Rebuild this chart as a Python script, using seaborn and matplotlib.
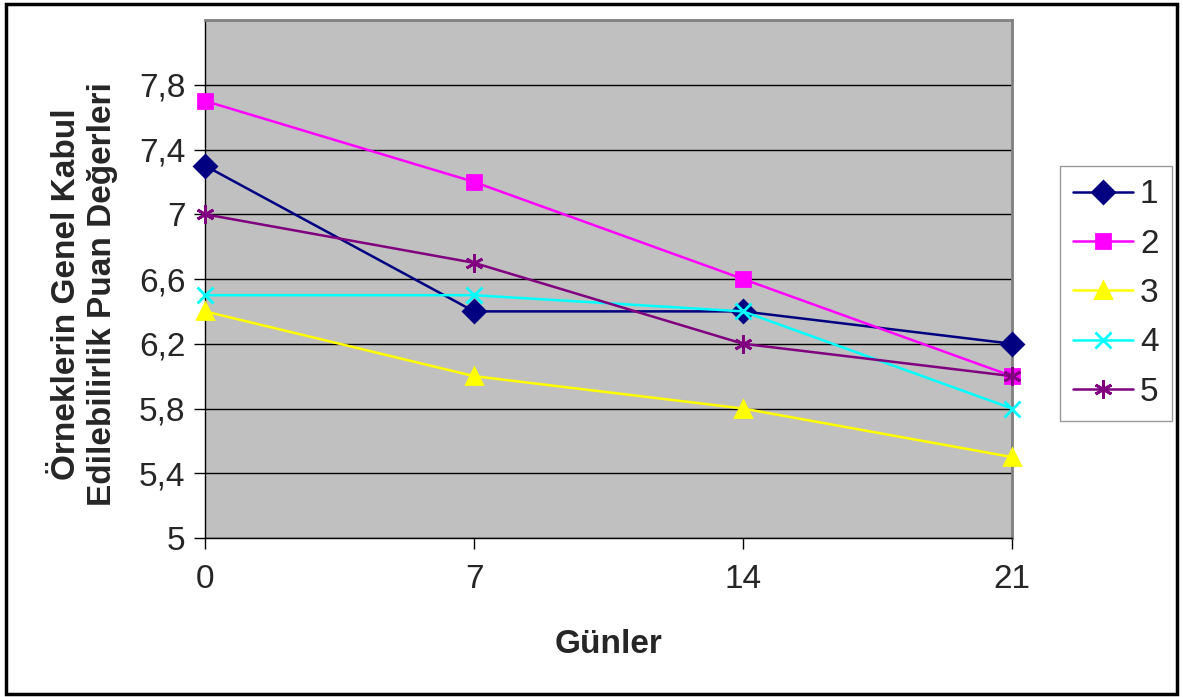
import numpy as np
import pandas as pd
import seaborn as sns
import matplotlib
matplotlib.use("Agg")
import matplotlib.pyplot as plt
from matplotlib.patches import Rectangle
from matplotlib.lines import Line2D

# ------ data ------ #
days = [0, 7, 14, 21]
series_names = ["1", "2", "3", "4", "5"]
s1 = [7.3, 6.4, 6.4, 6.2]
s2 = [7.7, 7.2, 6.6, 6.0]
s3 = [6.4, 6.0, 5.8, 5.5]
s4 = [6.5, 6.5, 6.4, 5.8]
s5 = [7.0, 6.7, 6.2, 6.0]
y_ticks = [5, 5.4, 5.8, 6.2, 6.6, 7, 7.4, 7.8]

colors = ["#000080", "#FF00FF", "#FFFF00", "#00FFFF", "#800080"]
markers = ["D", "s", "^", "x", (6, 2, 0)]
msizes = [11, 10, 11, 12, 13]

df = pd.DataFrame({
    "gun": days * 5,
    "puan": s1 + s2 + s3 + s4 + s5,
    "seri": [n for n in series_names for _ in days],
})

sns.set_style("white")
plt.rcParams["font.family"] = ["Liberation Sans", "DejaVu Sans"]

fig = plt.figure(figsize=(11.83, 6.97), dpi=100)
ax = fig.add_axes([0.1733, 0.2281, 0.6822, 0.7432])
ax.set_facecolor("#C0C0C0")

# ------ one line per sample ------ #
for name, c, m, ms in zip(series_names, colors, markers, msizes):
    sns.lineplot(
        data=df[df["seri"] == name], x="gun", y="puan", color=c,
        marker=m, markersize=ms, markeredgecolor=c, markeredgewidth=2,
        linewidth=1.8, legend=False, ax=ax, clip_on=False, zorder=3
    )

ax.set_xlim(0, 21)
ax.set_ylim(5, 8.2)
ax.set_xticks(days)
ax.set_xticklabels([str(d) for d in days])
ax.set_yticks(y_ticks)
ax.set_yticklabels([f"{v:g}".replace(".", ",") for v in y_ticks])
ax.yaxis.grid(True, color="black", linewidth=1)
ax.set_axisbelow(True)
ax.tick_params(axis="both", labelsize=24, direction="out", length=8,
               width=1, color="black", left=True, bottom=True)
ax.tick_params(axis="x", pad=11)
ax.tick_params(axis="y", pad=6)

for side in ["left", "bottom"]:
    ax.spines[side].set_color("black")
    ax.spines[side].set_linewidth(1)
for side in ["top", "right"]:
    ax.spines[side].set_color("#808080")
    ax.spines[side].set_linewidth(2)

ax.set_xlabel("Günler", fontsize=24, fontweight="bold", labelpad=24)
ax.set_ylabel("Örneklerin Genel Kabul\nEdilebilirlik Puan Değerleri",
              fontsize=24, fontweight="bold")
ax.yaxis.set_label_coords(-0.108, 0.471)

handles = [
    Line2D([], [], color=c, marker=m, markersize=ms, linewidth=1.8,
           markeredgecolor=c, markeredgewidth=2)
    for c, m, ms in zip(colors, markers, msizes)
]
leg = fig.legend(
    handles, series_names, loc="center left",
    bbox_to_anchor=(0.896, 0.579), bbox_transform=fig.transFigure,
    fontsize=24, frameon=True, fancybox=False, edgecolor="#808080",
    handlelength=1.8, labelspacing=0.55, borderpad=0.4,
    handletextpad=0.2, borderaxespad=0
)
leg.get_frame().set_linewidth(1)

fig.patches.append(Rectangle((0.005, 0.004), 0.99, 0.99, transform=fig.transFigure,
                             fill=False, edgecolor="black", linewidth=2.5))

fig.savefig("out.png", dpi=100)
